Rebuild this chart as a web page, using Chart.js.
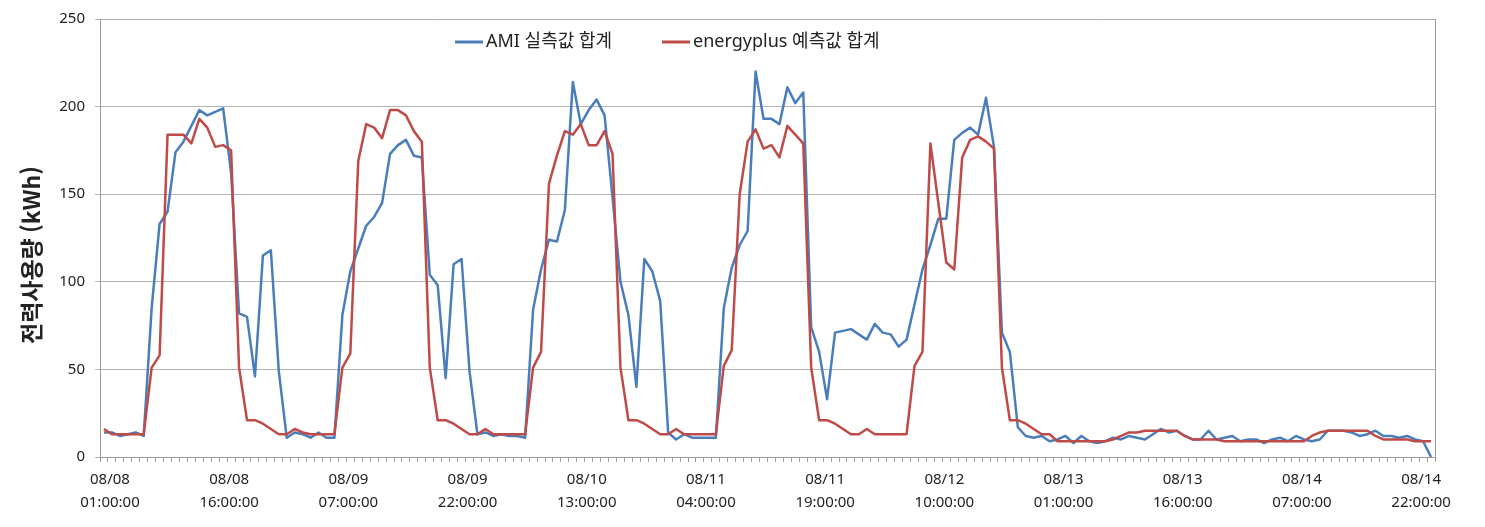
<!DOCTYPE html>
<html lang="ko">
<head>
<meta charset="utf-8">
<title>전력사용량</title>
<script src="https://cdn.jsdelivr.net/npm/chart.js@4.4.1/dist/chart.umd.min.js"></script>
<style>
  html, body { margin: 0; padding: 0; background: #fff; }
  #wrap { width: 1485px; height: 527px; }
</style>
</head>
<body>
<div id="wrap"><canvas id="grafico" width="1485" height="527"></canvas></div>
<script>
// hourly readings, 08/08 01:00 .. 08/15 00:00 (168 points)
const amiValues = [
  14, 14, 12, 13, 14, 12, 85, 133, 140, 174, 180, 189, 198, 195, 197, 199, 162, 82, 80, 46, 115, 118, 49, 11,
  14, 13, 11, 14, 11, 11, 81, 106, 119, 132, 137, 145, 173, 178, 181, 172, 171, 104, 98, 45, 110, 113, 49, 13,
  14, 12, 13, 12, 12, 11, 84, 107, 124, 123, 141, 214, 190, 198, 204, 195, 148, 100, 81, 40, 113, 106, 89, 14,
  10, 13, 11, 11, 11, 11, 85, 108, 121, 129, 220, 193, 193, 190, 211, 202, 208, 74, 60, 33, 71, 72, 73, 70,
  67, 76, 71, 70, 63, 67, 87, 107, 121, 136, 136, 181, 185, 188, 184, 205, 177, 71, 60, 17, 12, 11, 12, 9,
  10, 12, 8, 12, 9, 8, 9, 11, 10, 12, 11, 10, 13, 16, 14, 15, 12, 10, 10, 15, 10, 11, 12, 9,
  10, 10, 8, 10, 11, 9, 12, 10, 9, 10, 15, 15, 15, 14, 12, 13, 15, 12, 12, 11, 12, 10, 9, 0
];
const energyplusValues = [
  16, 13, 13, 13, 13, 13, 51, 58, 184, 184, 184, 179, 193, 188, 177, 178, 175, 51, 21, 21, 19, 16, 13, 13,
  16, 14, 13, 13, 13, 13, 51, 59, 169, 190, 188, 182, 198, 198, 195, 186, 180, 51, 21, 21, 19, 16, 13, 13,
  16, 13, 13, 13, 13, 13, 51, 60, 156, 172, 186, 184, 190, 178, 178, 186, 173, 51, 21, 21, 19, 16, 13, 13,
  16, 13, 13, 13, 13, 13, 52, 61, 150, 180, 187, 176, 178, 171, 189, 184, 179, 51, 21, 21, 19, 16, 13, 13,
  16, 13, 13, 13, 13, 13, 52, 60, 179, 145, 111, 107, 171, 181, 183, 180, 176, 51, 21, 21, 19, 16, 13, 13,
  9, 9, 9, 9, 9, 9, 9, 10, 12, 14, 14, 15, 15, 15, 15, 15, 12, 10, 10, 10, 10, 9, 9, 9,
  9, 9, 9, 9, 9, 9, 9, 9, 12, 14, 15, 15, 15, 15, 15, 15, 12, 10, 10, 10, 10, 9, 9, 9
];
const seriesNames = ["AMI 실측값 합계", "energyplus 예측값 합계"];
const yAxisTitle = "전력사용량 (kWh)";
const labelEvery = 15; // one label every 15 hours

// category labels "MM/DD HH:00:00"
const categories = [];
for (let i = 0; i < amiValues.length; i++) {
  const h = (1 + i) % 24;
  const d = 8 + Math.floor((1 + i) / 24);
  categories.push("08/" + String(d).padStart(2, "0") + " " + String(h).padStart(2, "0") + ":00:00");
}

const fontFamily = "'Noto Sans', 'Noto Sans CJK KR', sans-serif";
const gridColor = "#b3b3b3";
const axisColor = "#9a9a9a";
const textColor = "#222";

// legend inside the plot and the y title, placed like the original
const decorations = {
  id: "decorations",
  afterDraw(chart) {
    const ctx = chart.ctx;
    const xs = [455, 662];
    const y = 42;
    ctx.save();
    ctx.font = "18px " + fontFamily;
    ctx.textBaseline = "middle";
    chart.data.datasets.forEach((ds, k) => {
      ctx.strokeStyle = ds.borderColor;
      ctx.lineWidth = 3;
      ctx.beginPath();
      ctx.moveTo(xs[k], y);
      ctx.lineTo(xs[k] + 28, y);
      ctx.stroke();
      ctx.fillStyle = textColor;
      ctx.fillText(ds.label, xs[k] + 31, y);
    });

    ctx.translate(31, 255);
    ctx.rotate(-Math.PI / 2);
    ctx.font = "bold 23px 'Noto Sans CJK KR', sans-serif";
    ctx.textAlign = "center";
    ctx.fillText(yAxisTitle, 0, 0);
    ctx.restore();
  }
};

const ctx = document.getElementById("grafico").getContext("2d");

new Chart(ctx, {
  type: "line",
  data: {
    labels: categories,
    datasets: [
      {
        label: seriesNames[0],
        data: amiValues,
        borderColor: "#4a7ebb",
        borderWidth: 2.5,
        pointRadius: 0,
        tension: 0,
        borderJoinStyle: "round",
        order: 1
      },
      {
        label: seriesNames[1],
        data: energyplusValues,
        borderColor: "#be4b48",
        borderWidth: 2.5,
        pointRadius: 0,
        tension: 0,
        borderJoinStyle: "round",
        order: 0
      }
    ]
  },
  options: {
    responsive: false,
    animation: false,
    layout: { padding: { top: 18, right: 50, bottom: 0, left: 0 } },
    plugins: {
      legend: { display: false },
      tooltip: { enabled: false }
    },
    scales: {
      x: {
        offset: true,
        ticks: {
          autoSkip: false,
          maxRotation: 0,
          minRotation: 0,
          padding: 6,
          labelOffset: 6,
          color: textColor,
          font: { family: fontFamily, size: 15, lineHeight: 1.55 },
          callback: (v, i) => (i % labelEvery === 0 ? categories[i].split(" ") : "")
        },
        grid: { offset: true, drawOnChartArea: false, drawTicks: true, tickLength: 5, color: axisColor },
        border: { color: axisColor },
        afterFit: (s) => { s.height = 70; }
      },
      y: {
        min: 0,
        max: 250,
        ticks: {
          stepSize: 50,
          padding: 10,
          color: textColor,
          font: { family: fontFamily, size: 15 }
        },
        grid: { color: gridColor, tickLength: 5 },
        border: { color: axisColor },
        afterFit: (s) => { s.width = 100; }
      },
      yRight: {
        position: "right",
        min: 0,
        max: 250,
        ticks: { display: false },
        grid: { drawOnChartArea: false, drawTicks: false },
        border: { color: axisColor },
        afterFit: (s) => { s.width = 0; }
      }
    }
  },
  plugins: [decorations]
});
</script>
</body>
</html>
